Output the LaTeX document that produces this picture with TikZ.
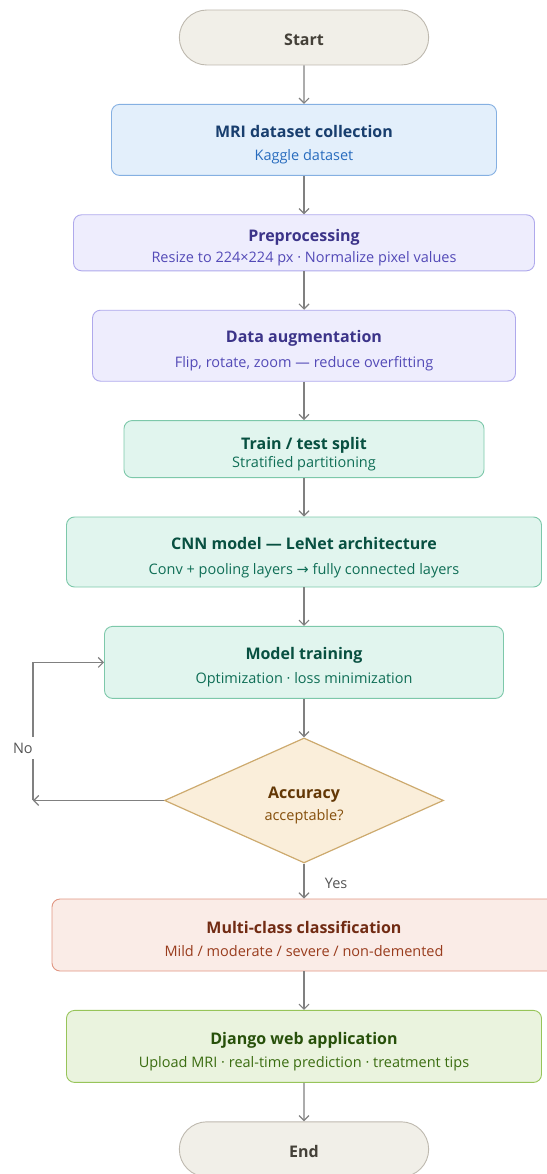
\documentclass[tikz,border=0pt]{standalone}
\usepackage{fontspec}
\setmainfont{Open Sans}
\newfontfamily\symfont{DejaVu Sans}
\usetikzlibrary{arrows.meta,positioning,shapes.geometric,shapes.misc}
\definecolor{SoftStone}{RGB}{241,239,232}
\definecolor{StoneLine}{RGB}{190,185,175}
\definecolor{StoneText}{RGB}{68,64,56}
\definecolor{SoftBlue}{RGB}{227,239,251}
\definecolor{BlueLine}{RGB}{133,176,226}
\definecolor{BlueTitle}{RGB}{24,62,110}
\definecolor{BlueSub}{RGB}{40,108,190}
\definecolor{SoftPurple}{RGB}{238,237,253}
\definecolor{PurpleLine}{RGB}{175,169,236}
\definecolor{PurpleTitle}{RGB}{60,52,137}
\definecolor{PurpleSub}{RGB}{83,74,183}
\definecolor{SoftTeal}{RGB}{225,245,238}
\definecolor{TealLine}{RGB}{125,200,170}
\definecolor{TealTitle}{RGB}{8,80,65}
\definecolor{TealSub}{RGB}{15,110,86}
\definecolor{SoftAmber}{RGB}{250,238,218}
\definecolor{AmberLine}{RGB}{205,170,110}
\definecolor{AmberTitle}{RGB}{99,56,6}
\definecolor{AmberSub}{RGB}{133,79,11}
\definecolor{SoftCoral}{RGB}{250,236,231}
\definecolor{CoralLine}{RGB}{225,150,130}
\definecolor{CoralTitle}{RGB}{113,43,19}
\definecolor{CoralSub}{RGB}{153,60,29}
\definecolor{SoftLime}{RGB}{234,243,222}
\definecolor{LimeLine}{RGB}{151,196,89}
\definecolor{LimeTitle}{RGB}{39,80,10}
\definecolor{LimeSub}{RGB}{59,109,17}
\definecolor{ArrowGray}{RGB}{128,128,128}
\definecolor{LabelGray}{RGB}{85,85,85}
\newcommand{\titlefont}{\fontsize{16}{19}\selectfont\bfseries}
% text is drawn a little below the middle of its box
\newcommand{\boxtext}[3][6pt]{\raisebox{-6pt}[\height][\depth]{\begin{tabular}{@{}c@{}}%
  {\titlefont #2}\\[#1]{\color{subcol}#3}\end{tabular}}}
\tikzset{
  stage/.style={rounded corners=8pt,line width=0.9pt,align=center,inner sep=2pt,
    font=\fontsize{14.5}{17}\selectfont},
  terminal/.style={rounded rectangle,draw=StoneLine,fill=SoftStone,line width=0.9pt,
    minimum width=256pt,minimum height=55pt,text=StoneText,font=\titlefont},
  blue stage/.style={stage,draw=BlueLine,fill=SoftBlue,text=BlueTitle,
    execute at begin node=\colorlet{subcol}{BlueSub}},
  purple stage/.style={stage,draw=PurpleLine,fill=SoftPurple,text=PurpleTitle,
    execute at begin node=\colorlet{subcol}{PurpleSub}},
  teal stage/.style={stage,draw=TealLine,fill=SoftTeal,text=TealTitle,
    execute at begin node=\colorlet{subcol}{TealSub}},
  coral stage/.style={stage,draw=CoralLine,fill=SoftCoral,text=CoralTitle,
    execute at begin node=\colorlet{subcol}{CoralSub}},
  lime stage/.style={stage,draw=LimeLine,fill=SoftLime,text=LimeTitle,
    execute at begin node=\colorlet{subcol}{LimeSub}},
  decision/.style={diamond,draw=AmberLine,fill=SoftAmber,line width=1.2pt,
    minimum width=279pt,minimum height=125pt,inner sep=0pt,align=center,
    text=AmberTitle,font=\fontsize{14.5}{17}\selectfont,
    execute at begin node=\colorlet{subcol}{AmberSub}},
  branch/.style={font=\fontsize{14.5}{17}\selectfont,text=LabelGray},
  arrow/.style={-{Straight Barb[length=5pt,width=10pt]},line width=1.2pt,ArrowGray}
}

\begin{document}
\begin{tikzpicture}[x=1pt,y=-1pt,node distance=38.5pt]
  \useasboundingbox (0,0) rectangle (546,1174);
  \node[terminal] (start) at (304,37.5) {\raisebox{-2pt}[\height][\depth]{Start}};
  \node[blue stage,minimum width=385pt,minimum height=71pt,below=of start] (collect)
    {\boxtext{MRI dataset collection}{Kaggle dataset}};
  \node[purple stage,minimum width=461pt,minimum height=56pt,below=of collect] (prep)
    {\boxtext[4pt]{Preprocessing}{Resize to 224×224 px · Normalize pixel values}};
  \node[purple stage,minimum width=423pt,minimum height=71pt,below=of prep] (augment)
    {\boxtext[8pt]{Data augmentation}{Flip, rotate, zoom — reduce overfitting}};
  \node[teal stage,minimum width=360pt,minimum height=57pt,below=of augment] (split)
    {\boxtext[1pt]{Train / test split}{Stratified partitioning}};
  \node[teal stage,minimum width=475pt,minimum height=70pt,below=of split] (cnn)
    {\boxtext[8pt]{CNN model — LeNet architecture}{Conv + pooling layers {\symfont →} fully connected layers}};
  \node[teal stage,minimum width=399pt,minimum height=72pt,below=of cnn] (training)
    {\boxtext[7pt]{Model training}{Optimization · loss minimization}};
  \node[decision,below=of training] (accuracy)
    {\boxtext[5pt]{Accuracy}{acceptable?}};
  \node[coral stage,minimum width=504pt,minimum height=72pt,below=35pt of accuracy] (classify)
    {\boxtext{Multi-class classification}{Mild / moderate / severe / non-demented}};
  \node[lime stage,minimum width=475pt,minimum height=72pt,below=of classify] (webapp)
    {\boxtext{Django web application}{Upload MRI · real-time prediction · treatment tips}};
  \node[terminal,below=of webapp] (end) {\raisebox{-2pt}[\height][\depth]{End}};

  \draw[arrow] (start) -- (collect);
  \draw[arrow] (collect) -- (prep);
  \draw[arrow] (prep) -- (augment);
  \draw[arrow] (augment) -- (split);
  \draw[arrow] (split) -- (cnn);
  \draw[arrow] (cnn) -- (training);
  \draw[arrow] (training) -- (accuracy);
  \draw[arrow] (accuracy) -- node[branch,right=17pt,yshift=-2pt] {Yes} (classify);
  \draw[arrow] (classify) -- (webapp);
  \draw[arrow] (webapp) -- (end);
  % retry loop
  \path (accuracy.west) ++(-131,0) coordinate (noturn);
  \draw[arrow] (accuracy.west) -- (noturn);
  \draw[arrow] (noturn) |- node[branch,pos=0.19,xshift=-10pt,fill=white,inner ysep=6pt] {No} (training.west);
\end{tikzpicture}
\end{document}
